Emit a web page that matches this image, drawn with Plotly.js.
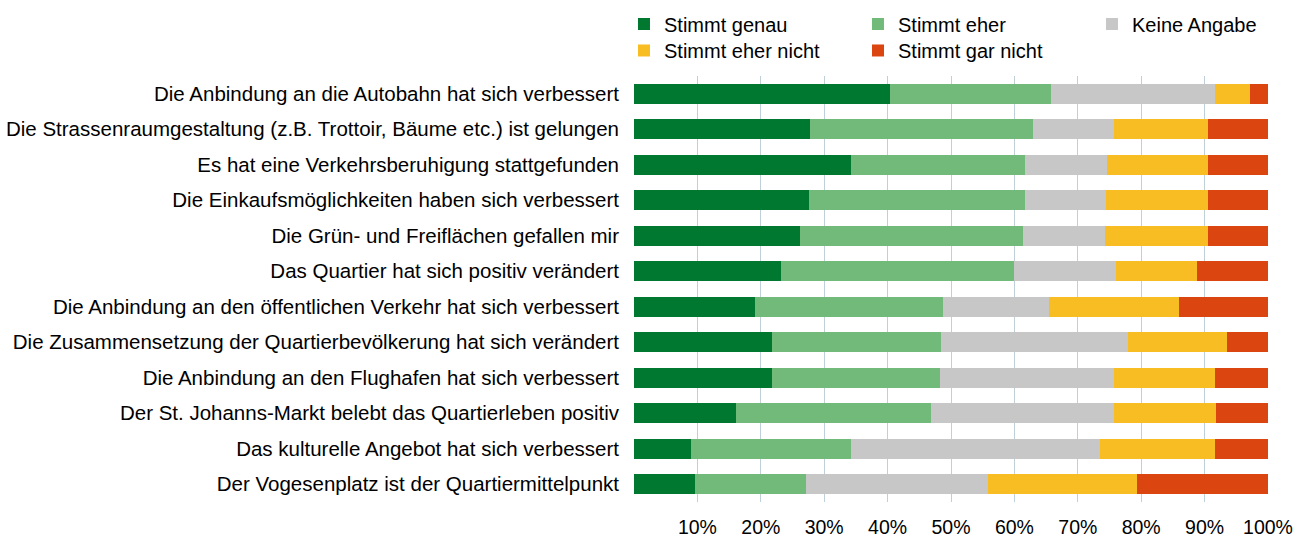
<!DOCTYPE html>
<html>
<head>
<meta charset="utf-8">
<script src="https://cdn.plot.ly/plotly-3.0.1.min.js"></script>
<style>html,body{margin:0;padding:0;background:#fff;}#chart{width:1301px;height:539px;}</style>
</head>
<body>
<div id="chart"></div>
<script>
const categories = [
  "Die Anbindung an die Autobahn hat sich verbessert",
  "Die Strassenraumgestaltung (z.B. Trottoir, Bäume etc.) ist gelungen",
  "Es hat eine Verkehrsberuhigung stattgefunden",
  "Die Einkaufsmöglichkeiten haben sich verbessert",
  "Die Grün- und Freiflächen gefallen mir",
  "Das Quartier hat sich positiv verändert",
  "Die Anbindung an den öffentlichen Verkehr hat sich verbessert",
  "Die Zusammensetzung der Quartierbevölkerung hat sich verändert",
  "Die Anbindung an den Flughafen hat sich verbessert",
  "Der St. Johanns-Markt belebt das Quartierleben positiv",
  "Das kulturelle Angebot hat sich verbessert",
  "Der Vogesenplatz ist der Quartiermittelpunkt"
];
const stimmtGenau     = [40.3, 27.8, 34.3, 27.6, 26.2, 23.2, 19.1, 21.7, 21.8, 16.1,  9.0,  9.6];
const stimmtEher      = [25.4, 35.2, 27.3, 34.0, 35.1, 36.8, 29.7, 26.8, 26.4, 30.8, 25.2, 17.6];
const keineAngabe     = [25.9, 12.7, 13.0, 12.8, 13.0, 16.0, 16.7, 29.4, 27.5, 28.8, 39.3, 28.6];
const stimmtEherNicht = [ 5.5, 14.8, 15.9, 16.1, 16.2, 12.8, 20.5, 15.6, 15.9, 16.1, 18.1, 23.5];
const stimmtGarNicht  = [ 2.9,  9.5,  9.5,  9.5,  9.5, 11.2, 14.0,  6.5,  8.4,  8.2,  8.4, 20.7];
const seriesNames = ["Stimmt genau", "Stimmt eher", "Keine Angabe", "Stimmt eher nicht", "Stimmt gar nicht"];
const tickValues = [0, 10, 20, 30, 40, 50, 60, 70, 80, 90, 100];
const tickLabels = ["", "10%", "20%", "30%", "40%", "50%", "60%", "70%", "80%", "90%", "100%"];

const seriesValues = [stimmtGenau, stimmtEher, keineAngabe, stimmtEherNicht, stimmtGarNicht];
const colors = ["#00782f", "#72ba7a", "#c7c7c7", "#f9bd24", "#db4510"];
const legendIds = ["legend", "legend", "legend", "legend2", "legend2"];

const traces = seriesNames.map((name, i) => ({
  type: "bar",
  orientation: "h",
  name: name,
  y: categories,
  x: seriesValues[i],
  marker: {color: colors[i], line: {width: 0}},
  legend: legendIds[i],
  hoverinfo: "x+name"
}));

const font = {family: "Liberation Sans, Arial, sans-serif", size: 20, color: "#000"};
const labelFont = {family: "Liberation Sans, Arial, sans-serif", size: 20.5, color: "#000"};
const tickFont = {family: "Liberation Sans, Arial, sans-serif", size: 19.5, color: "#000"};

const layout = {
  width: 1301,
  height: 539,
  margin: {l: 634, r: 33, t: 76, b: 37, autoexpand: false},
  paper_bgcolor: "#fff",
  plot_bgcolor: "#fff",
  font: font,
  barmode: "stack",
  bargap: 0.44,
  showlegend: true,
  legend: {
    orientation: "h",
    x: -0.0158, xanchor: "left",
    y: 1.1221, yanchor: "middle",
    entrywidth: 189,
    font: font,
    bgcolor: "rgba(0,0,0,0)",
    traceorder: "normal"
  },
  legend2: {
    orientation: "h",
    x: -0.0158, xanchor: "left",
    y: 1.0599, yanchor: "middle",
    entrywidth: 189,
    font: font,
    bgcolor: "rgba(0,0,0,0)",
    traceorder: "normal"
  },
  xaxis: {
    range: [0, 100],
    tickmode: "array",
    tickvals: tickValues,
    ticktext: tickLabels,
    showgrid: true,
    gridcolor: "#bfd0d8",
    gridwidth: 1,
    zeroline: false,
    showline: false,
    ticks: "",
    ticklabelstandoff: 11,
    tickfont: tickFont,
    fixedrange: true
  },
  yaxis: {
    autorange: "reversed",
    type: "category",
    showgrid: false,
    zeroline: false,
    showline: false,
    ticks: "",
    ticklabelstandoff: 14,
    tickfont: labelFont,
    fixedrange: true
  }
};

Plotly.newPlot("chart", traces, layout, {displayModeBar: false, responsive: false});
</script>
</body>
</html>
